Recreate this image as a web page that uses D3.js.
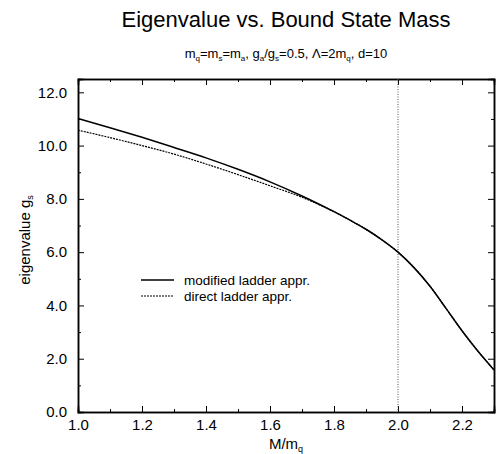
<!DOCTYPE html>
<html>
<head>
<meta charset="utf-8">
<script src="https://cdnjs.cloudflare.com/ajax/libs/d3/7.8.5/d3.min.js"></script>
<style>
  body { margin: 0; background: #fff; }
  text { font-family: "Liberation Sans", Arial, sans-serif; fill: #000; }
</style>
</head>
<body>
<div id="chart"></div>
<script>
// values
var mass = [1.0, 1.1, 1.2, 1.3, 1.4, 1.5, 1.6, 1.7, 1.8, 1.85, 1.9, 1.95, 2.0, 2.05, 2.1, 2.15, 2.2, 2.25, 2.3];
var modified = [11.02, 10.67, 10.31, 9.93, 9.54, 9.11, 8.64, 8.11, 7.52, 7.20, 6.86, 6.46, 6.00, 5.42, 4.72, 3.89, 3.05, 2.28, 1.58];
var direct = [10.58, 10.30, 10.00, 9.68, 9.31, 8.91, 8.49, 8.06, 7.52, 7.20, 6.86, 6.46, 6.00, 5.42, 4.72, 3.89, 3.05, 2.28, 1.58];
var xTicks = [1.0, 1.2, 1.4, 1.6, 1.8, 2.0, 2.2];
var yTicks = [0, 2, 4, 6, 8, 10, 12];
var legendNames = ["modified ladder appr.", "direct ladder appr."];
var threshold = 2.0;

var width = 500, height = 454;
var margin = {top: 79, right: 6, bottom: 42, left: 78};
var w = width - margin.left - margin.right;
var h = height - margin.top - margin.bottom;

var svg = d3.select("#chart").append("svg").attr("width", width).attr("height", height);
var g = svg.append("g").attr("transform", "translate(" + margin.left + "," + margin.top + ")");

var x = d3.scaleLinear().domain([1.0, 2.3]).range([0, w]);
var y = d3.scaleLinear().domain([0, 12.5]).range([h, 0]);

var minorX = d3.range(1.1, 2.3, 0.2);
var minorY = d3.range(1, 13, 2);

// minor ticks first, then the major axes with labels
g.append("g").attr("transform", "translate(0," + h + ")")
  .call(d3.axisBottom(x).tickValues(minorX).tickSize(-3).tickFormat(""));
g.append("g")
  .call(d3.axisTop(x).tickValues(minorX).tickSize(-3).tickFormat(""));
g.append("g")
  .call(d3.axisLeft(y).tickValues(minorY).tickSize(-3).tickFormat(""));
g.append("g").attr("transform", "translate(" + w + ",0)")
  .call(d3.axisRight(y).tickValues(minorY).tickSize(-3).tickFormat(""));

g.append("g").attr("transform", "translate(0," + h + ")")
  .call(d3.axisBottom(x).tickValues(xTicks).tickSize(-6).tickPadding(7).tickFormat(d3.format(".1f")));
g.append("g")
  .call(d3.axisTop(x).tickValues(xTicks).tickSize(-6).tickFormat(""));
g.append("g")
  .call(d3.axisLeft(y).tickValues(yTicks).tickSize(-6).tickPadding(11).tickFormat(d3.format(".1f")));
g.append("g").attr("transform", "translate(" + w + ",0)")
  .call(d3.axisRight(y).tickValues(yTicks).tickSize(-6).tickFormat(""));

g.selectAll(".tick text").attr("font-size", 15).attr("font-family", "Liberation Sans, Arial, sans-serif");
g.selectAll(".domain").attr("stroke-width", 1.5);
g.selectAll(".tick line").attr("stroke-width", 1);

// the vertical dotted line at M = 2 m_q
g.append("line")
  .attr("x1", x(threshold)).attr("x2", x(threshold))
  .attr("y1", 0).attr("y2", h)
  .attr("stroke", "#555")
  .attr("stroke-width", 1)
  .attr("stroke-dasharray", "1,1.5");

var line = d3.line()
  .x(function(d) { return x(d[0]); })
  .y(function(d) { return y(d[1]); })
  .curve(d3.curveCatmullRom.alpha(0.5));

g.append("path")
  .datum(mass.map(function(m, i) { return [m, direct[i]]; }))
  .attr("fill", "none")
  .attr("stroke", "#000")
  .attr("stroke-width", 1.2)
  .attr("stroke-dasharray", "2,1")
  .attr("d", line);

g.append("path")
  .datum(mass.map(function(m, i) { return [m, modified[i]]; }))
  .attr("fill", "none")
  .attr("stroke", "#000")
  .attr("stroke-width", 1.5)
  .attr("d", line);

// legend
var legend = svg.append("g");
legendNames.forEach(function(name, i) {
  var ly = 280 + i * 16;
  legend.append("line")
    .attr("x1", 141).attr("x2", 174)
    .attr("y1", ly).attr("y2", ly)
    .attr("stroke", "#000")
    .attr("stroke-width", i == 0 ? 1.5 : 1.2)
    .attr("stroke-dasharray", i == 0 ? null : "2,1");
  legend.append("text")
    .attr("x", 184).attr("y", ly + 5)
    .attr("font-size", 13.5)
    .text(name);
});

// titles
svg.append("text")
  .attr("x", margin.left + w / 2).attr("y", 27)
  .attr("text-anchor", "middle")
  .attr("font-size", 22)
  .text("Eigenvalue vs. Bound State Mass");

var sub = svg.append("text")
  .attr("x", margin.left + w / 2).attr("y", 58)
  .attr("text-anchor", "middle")
  .attr("font-size", 13);
var parts = [["m", ""], ["q", "sub"], ["=m", ""], ["s", "sub"], ["=m", ""], ["a", "sub"],
             [", g", ""], ["a", "sub"], ["/g", ""], ["s", "sub"], ["=0.5, \u039B=2m", ""], ["q", "sub"], [", d=10", ""]];
parts.forEach(function(p) {
  var t = sub.append("tspan").text(p[0]);
  if (p[1] == "sub") t.attr("font-size", 8).attr("baseline-shift", "-3");
});

var xl = svg.append("text")
  .attr("x", margin.left + w / 2).attr("y", 449)
  .attr("text-anchor", "middle")
  .attr("font-size", 15);
xl.append("tspan").text("M/m");
xl.append("tspan").text("q").attr("font-size", 9).attr("baseline-shift", "-3");

var yl = svg.append("text")
  .attr("transform", "translate(30," + 240 + ") rotate(-90)")
  .attr("text-anchor", "middle")
  .attr("font-size", 15);
yl.append("tspan").text("eigenvalue g");
yl.append("tspan").text("s").attr("font-size", 9).attr("baseline-shift", "-3");
</script>
</body>
</html>
